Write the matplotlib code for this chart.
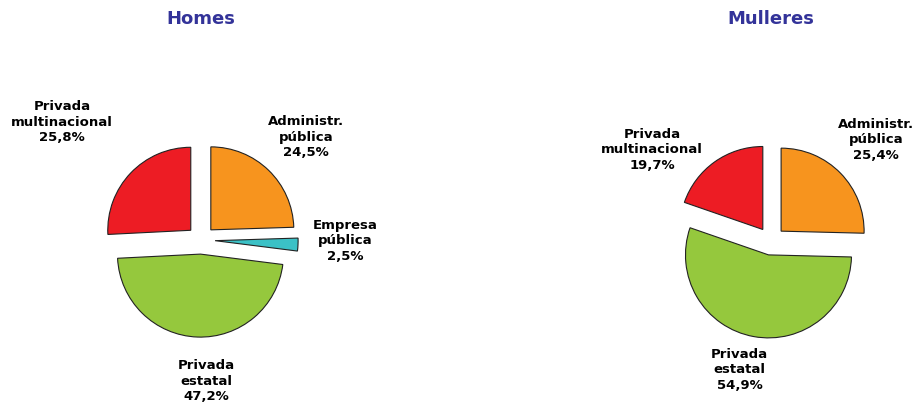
import matplotlib.pyplot as plt

categorias = ["Administr.\npública", "Empresa\npública", "Privada\nestatal", "Privada\nmultinacional"]
homes = [24.5, 2.5, 47.2, 25.8]
mulleres = [25.4, 0.0, 54.9, 19.7]
cores = ["#F7941E", "#3BC1C6", "#95C83D", "#ED1C24"]

# label positions (data units, radius = 1)
pos_homes = [(1.265, 1.24), (1.735, -0.01), (0.07, -1.70), (-1.675, 1.42)]
pos_mulleres = [(1.265, 1.22), None, (-0.38, -1.55), (-1.43, 1.10)]

W, H = 916, 405
R = 83.0  # pie radius in pixels


def fmt(v):
    return ("%.1f%%" % v).replace(".", ",")


def tarta(fig, cx, cy, valores, posicions, titulo):
    half = 150
    ax = fig.add_axes([(cx - half) / W, (H - cy - half) / H, 2 * half / W, 2 * half / H])
    vals, cols, labs, poss = [], [], [], []
    for v, c, l, p in zip(valores, cores, categorias, posicions):
        if v > 0:
            vals.append(v)
            cols.append(c)
            labs.append(l)
            poss.append(p)
    ax.pie(vals, colors=cols, startangle=90, counterclock=False,
           explode=[0.17] * len(vals), radius=1,
           wedgeprops=dict(edgecolor="#222222", linewidth=0.8))
    lim = half / R
    ax.set_xlim(-lim, lim)
    ax.set_ylim(-lim, lim)
    ax.set_aspect("equal")
    ax.axis("off")
    for v, l, p in zip(vals, labs, poss):
        ax.text(p[0], p[1], l + "\n" + fmt(v), ha="center", va="center",
                fontsize=9.5, fontweight="bold", color="black",
                family="DejaVu Sans", linespacing=1.25)
    fig.text(cx / W, 1 - 19 / H, titulo, ha="center", va="center",
             fontsize=13, fontweight="bold", color="#333399")


fig = plt.figure(figsize=(W / 100, H / 100), dpi=100)
tarta(fig, 201, 240, homes, pos_homes, "Homes")
tarta(fig, 771, 241, mulleres, pos_mulleres, "Mulleres")
fig.savefig("out.png", dpi=100)
